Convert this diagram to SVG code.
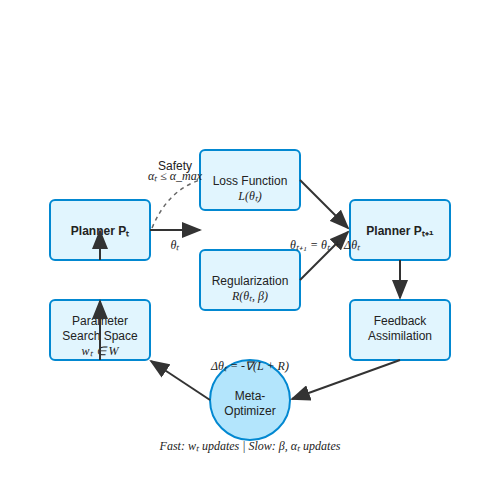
<svg xmlns="http://www.w3.org/2000/svg" width="500" height="500" viewBox="0 0 500 500">
<style>
.box{fill:#e1f5fe;stroke:#0288d1;stroke-width:2}
.circ{fill:#b3e5fc;stroke:#0288d1;stroke-width:2}
.t{font-family:"Liberation Sans",Arial,sans-serif;font-size:12px;fill:#222;text-anchor:middle}
.b{font-weight:bold}
.m{font-family:"Liberation Serif","Times New Roman",serif;font-style:italic;font-size:12px;fill:#222;text-anchor:middle}
.c{stroke:#333;stroke-width:2;fill:none;marker-end:url(#ah)}
.d{stroke:#666;stroke-width:1.5;fill:none;stroke-dasharray:4,4}
</style>
<defs>
<marker id="ah" markerWidth="10" markerHeight="8" refX="9" refY="4" orient="auto" markerUnits="strokeWidth">
<path d="M0,0 L10,4 L0,8 Z" fill="#333"/>
</marker>
</defs>
<rect width="500" height="500" fill="#fff"/>
<g id="loss"><rect class="box" x="200" y="150" width="100" height="60" rx="5"/><text class="t" x="250" y="185">Loss Function</text><text class="m" x="250" y="200">L(θₜ)</text></g>
<g id="reg"><rect class="box" x="200" y="250" width="100" height="60" rx="5"/><text class="t" x="250" y="285">Regularization</text><text class="m" x="250" y="300">R(θₜ, β)</text></g>
<g id="pt"><rect class="box" x="50" y="200" width="100" height="60" rx="5"/><text class="t b" x="100" y="235">Planner Pₜ</text></g>
<g id="pt1"><rect class="box" x="350" y="200" width="100" height="60" rx="5"/><text class="t b" x="400" y="235">Planner Pₜ₊₁</text></g>
<g id="pss"><rect class="box" x="50" y="300" width="100" height="60" rx="5"/><text class="t" x="100" y="325">Parameter</text><text class="t" x="100" y="340">Search Space</text><text class="m" x="100" y="355">wₜ ∈ W</text></g>
<g id="fb"><rect class="box" x="350" y="300" width="100" height="60" rx="5"/><text class="t" x="400" y="325">Feedback</text><text class="t" x="400" y="340">Assimilation</text></g>
<g id="meta"><circle class="circ" cx="250" cy="400" r="40"/><text class="t" x="250" y="400">Meta-</text><text class="t" x="250" y="415">Optimizer</text></g>
<g id="connectors">
<path class="c" d="M150,230 L200,230"/>
<path class="c" d="M300,180 L348,228"/>
<path class="c" d="M300,280 L348,232"/>
<path class="c" d="M400,260 L400,298"/>
<path class="c" d="M400,360 L292,399"/>
<path class="c" d="M210,400 L151,361"/>
<path class="c" d="M100,360 L100,301"/>
<path class="c" d="M100,260 L100,231"/>
<path class="d" d="M152,228 Q168,190 200,180"/>
<text class="m" x="175" y="249">θₜ</text>
<text class="m" x="325" y="249">θₜ₊₁ = θₜ + Δθₜ</text>
<text class="t" x="175" y="170">Safety</text>
<text class="m" x="175" y="180">αₜ ≤ α_max</text>
<text class="m" x="250" y="370">Δθₜ = -∇(L + R)</text>
</g>
<text class="m" x="250" y="450">Fast: wₜ updates | Slow: β, αₜ updates</text>
</svg>
